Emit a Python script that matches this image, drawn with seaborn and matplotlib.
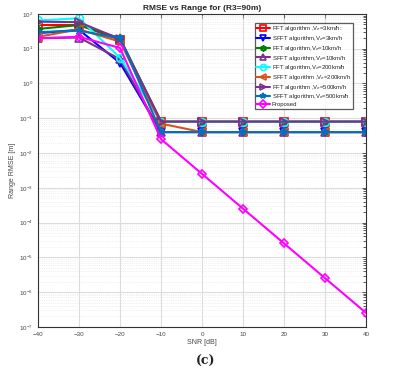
import numpy as np
import pandas as pd
import seaborn as sns
import matplotlib.pyplot as plt
from matplotlib.ticker import LogLocator, NullFormatter

snr = [-40, -30, -20, -10, 0, 10, 20, 30, 40]

fft_3 = [48, 48, 18, 0.08, 0.08, 0.08, 0.08, 0.08, 0.08]
sfft_3 = [28, 35, 3.9, 0.04, 0.04, 0.04, 0.04, 0.04, 0.04]
fft_10 = [37, 48, 20, 0.08, 0.08, 0.08, 0.08, 0.08, 0.08]
sfft_10 = [20, 21, 5, 0.04, 0.04, 0.04, 0.04, 0.04, 0.04]
fft_200 = [65, 75, 5.5, 0.08, 0.08, 0.08, 0.08, 0.08, 0.08]
sfft_200 = [22, 36, 16, 0.07, 0.04, 0.04, 0.04, 0.04, 0.04]
fft_500 = [60, 58, 19, 0.08, 0.08, 0.08, 0.08, 0.08, 0.08]
sfft_500 = [30, 33, 20, 0.04, 0.04, 0.04, 0.04, 0.04, 0.04]
proposed = [20, 22, 10.5, 0.025, 0.0025, 2.5e-4, 2.5e-5, 2.5e-6, 2.5e-7]

labels = ["FFT algorithm ,V$_e$=3km/h:",
          "SFFT algorithm,V$_e$=3km/h",
          "FFT algorithm,V$_e$=10km/h",
          "SFFT algorithm,V$_e$=10km/h",
          "FFT algorithm,V$_e$=200km/h",
          "SFFT algorithm ,V$_e$=200km/h",
          "FFT algorithm ,V$_e$=500km/h",
          "SFFT algorithm,V$_e$=500km/h",
          "Proposed"]
series = [fft_3, sfft_3, fft_10, sfft_10, fft_200, sfft_200, fft_500, sfft_500, proposed]

colors = ["red", "blue", "#008000", "#7E2F8E", "cyan", "#D95319", "#7E2F8E", "#0072BD", "magenta"]
markers = ["s", "v", (6, 1, 0), "^", "o", "<", ">", "*", "D"]
filled = [False, False, False, False, False, False, False, True, False]

sns.set_style("white")
plt.rcParams['font.family'] = ['Liberation Sans', 'DejaVu Sans']

fig = plt.figure(figsize=(3.94, 3.77), dpi=100)
ax = fig.add_axes([0.0964, 0.133, 0.833, 0.830])

for i, vals in enumerate(series):
    df = pd.DataFrame({"snr": snr, "rmse": vals})
    sns.lineplot(data=df, x="snr", y="rmse", ax=ax, color=colors[i], lw=1.5,
                 marker=markers[i], markersize=5.5 if markers[i] != "D" else 4.5,
                 markerfacecolor=colors[i] if filled[i] else "none",
                 markeredgecolor=colors[i], markeredgewidth=1.2, label=labels[i])

ax.set_yscale("log")
ax.set_xlim(-40, 40)
ax.set_ylim(1e-7, 1e2)
ax.set_xticks(snr)
ax.yaxis.set_major_locator(LogLocator(base=10, numticks=12))
ax.yaxis.set_minor_locator(LogLocator(base=10, subs=np.arange(2, 10), numticks=12))
ax.yaxis.set_minor_formatter(NullFormatter())
ax.grid(True, which="major", color="#dcdcdc", lw=0.8)
ax.grid(True, which="minor", color="#e4e4e4", lw=0.5, ls=":")
ax.set_axisbelow(True)
ax.tick_params(axis="both", which="both", direction="in", top=True, right=True,
               labelsize=4.5, colors="#444444", length=3, width=0.6)
ax.tick_params(axis="y", which="minor", length=2)
for s in ax.spines.values():
    s.set_color("#333333")
    s.set_linewidth(0.8)

ax.set_title("RMSE vs Range for (R3=90m)", fontsize=6, fontweight="bold", pad=3)
ax.set_xlabel("SNR [dB]", fontsize=5, color="#444444", labelpad=2)
ax.set_ylabel("Range RMSE [m]", fontsize=5, color="#444444", labelpad=2)

leg = ax.legend(loc="upper right", fontsize=4.3, frameon=True, fancybox=False,
                edgecolor="#333333", handlelength=2.2, handletextpad=0.4,
                borderpad=0.3, labelspacing=0.12, markerscale=0.8,
                bbox_to_anchor=(0.97, 0.982))
leg.get_frame().set_linewidth(0.9)

fig.text(0.523, 0.04, "(c)", fontsize=9, fontweight="bold", family="DejaVu Serif",
         ha="center", va="center", color="#222222")

fig.savefig("out.png", dpi=100)
